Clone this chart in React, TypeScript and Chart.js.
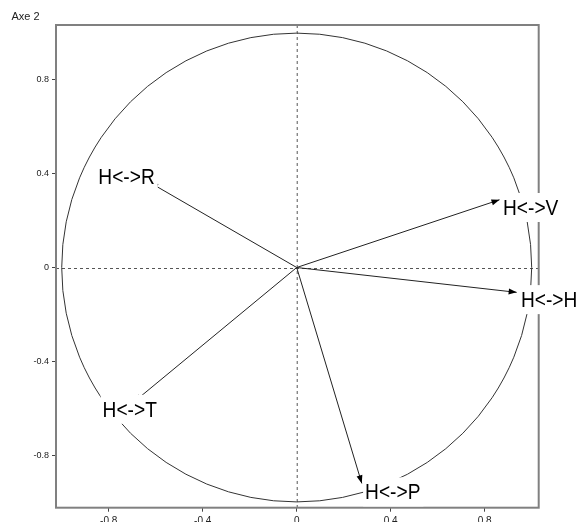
import React, { useEffect, useRef } from "react";
import { Chart, registerables } from "chart.js";

Chart.register(...registerables);

// ---- data ----
const vectorNames = ["H<->V", "H<->H", "H<->P", "H<->R", "H<->T"];
const vectorX = [0.863, 0.936, 0.277, -0.624, -0.692];
const vectorY = [0.289, -0.106, -0.921, 0.362, -0.573];
// label anchors (text left, cap top) in axis units
const labelX = [0.878, 0.954, 0.291, -0.844, -0.826];
const labelY = [0.288, -0.105, -0.925, 0.42, -0.573];

const xTicks = [-0.8, -0.4, 0, 0.4, 0.8];
const yTicks = [-0.8, -0.4, 0, 0.4, 0.8];
const xTickLabels = ["-0.8", "-0.4", "0", "0.4", "0.8"];
const yTickLabels = ["-0.8", "-0.4", "0", "0.4", "0.8"];
const xRange = [-1.0243, 1.0298];
const yRange = [-1.0247, 1.0346];
const yAxisTitle = "Axe 2";
const circleRadius = 1;

const LABEL_FONT = '22px "Liberation Sans", Arial, sans-serif';
const LABEL_SQUEEZE = 0.87;
const TICK_FONT_FAMILY = '"Liberation Sans", Arial, sans-serif';

const overlayPlugin = {
  id: "overlay",
  beforeDatasetsDraw(chart: any) {
    const { ctx, chartArea, scales } = chart;
    const xs = scales.x;
    const ys = scales.y;
    const x0 = xs.getPixelForValue(0);
    const y0 = ys.getPixelForValue(0);
    ctx.save();
    // dashed axes through origin
    ctx.strokeStyle = "#555";
    ctx.lineWidth = 1;
    ctx.setLineDash([3, 3]);
    ctx.beginPath();
    ctx.moveTo(x0 + 0.5, chartArea.top);
    ctx.lineTo(x0 + 0.5, chartArea.bottom);
    ctx.moveTo(chartArea.left, Math.round(y0) + 0.5);
    ctx.lineTo(chartArea.right, Math.round(y0) + 0.5);
    ctx.stroke();
    ctx.setLineDash([]);
    // circle
    const rx = xs.getPixelForValue(circleRadius) - x0;
    const ry = y0 - ys.getPixelForValue(circleRadius);
    ctx.strokeStyle = "#333";
    ctx.lineWidth = 1;
    ctx.beginPath();
    ctx.ellipse(x0, y0, rx, ry, 0, 0, Math.PI * 2);
    ctx.stroke();
    // frame
    ctx.strokeStyle = "#808080";
    ctx.lineWidth = 2;
    ctx.strokeRect(chartArea.left, chartArea.top, chartArea.right - chartArea.left, chartArea.bottom - chartArea.top);
    ctx.restore();
  },
  afterDatasetsDraw(chart: any) {
    const { ctx, scales } = chart;
    const xs = scales.x;
    const ys = scales.y;
    const x0 = xs.getPixelForValue(0);
    const y0 = ys.getPixelForValue(0);
    ctx.save();
    // arrowheads
    ctx.fillStyle = "#000";
    for (let i = 0; i < vectorNames.length; i++) {
      const tx = xs.getPixelForValue(vectorX[i]);
      const ty = ys.getPixelForValue(vectorY[i]);
      const ang = Math.atan2(ty - y0, tx - x0);
      const len = 8;
      const hw = 3;
      const bx = tx - len * Math.cos(ang);
      const by = ty - len * Math.sin(ang);
      ctx.beginPath();
      ctx.moveTo(tx, ty);
      ctx.lineTo(bx + hw * Math.sin(ang), by - hw * Math.cos(ang));
      ctx.lineTo(bx - hw * Math.sin(ang), by + hw * Math.cos(ang));
      ctx.closePath();
      ctx.fill();
    }
    // labels with white boxes
    ctx.font = LABEL_FONT;
    ctx.textAlign = "left";
    ctx.textBaseline = "alphabetic";
    const cap = ctx.measureText("H").actualBoundingBoxAscent;
    for (let i = 0; i < vectorNames.length; i++) {
      const lx = xs.getPixelForValue(labelX[i]);
      const ly = ys.getPixelForValue(labelY[i]);
      const w = ctx.measureText(vectorNames[i]).width * LABEL_SQUEEZE;
      ctx.fillStyle = "#fff";
      ctx.fillRect(lx - 2, ly - 7, w + 5, cap + 14);
      ctx.save();
      ctx.translate(lx, ly + cap);
      ctx.scale(LABEL_SQUEEZE, 1);
      ctx.fillStyle = "#000";
      ctx.fillText(vectorNames[i], 0, 0);
      ctx.restore();
    }
    // y axis title
    ctx.font = `11px ${TICK_FONT_FAMILY}`;
    ctx.fillStyle = "#222";
    ctx.fillText(yAxisTitle, 11.5, 20);
    ctx.restore();
  },
};

export default function App() {
  const ref = useRef<HTMLCanvasElement | null>(null);
  useEffect(() => {
    document.body.style.margin = "0";
    const datasets = vectorNames.map((name, i) => ({
      label: name,
      data: [
        { x: 0, y: 0 },
        { x: vectorX[i], y: vectorY[i] },
      ],
      showLine: true,
      borderColor: "#222",
      borderWidth: 1,
      pointRadius: 0,
      fill: false,
    }));
    const chart = new Chart(ref.current as HTMLCanvasElement, {
      type: "scatter",
      data: { datasets },
      options: {
        animation: false,
        responsive: true,
        maintainAspectRatio: false,
        layout: { padding: { top: 25, right: 39.3, left: 0, bottom: 0 } },
        plugins: { legend: { display: false }, tooltip: { enabled: false } },
        scales: {
          x: {
            type: "linear",
            min: xRange[0],
            max: xRange[1],
            afterBuildTicks: (s: any) => {
              s.ticks = xTicks.map((v) => ({ value: v }));
            },
            afterFit: (s: any) => {
              s.height = 14.3;
            },
            ticks: {
              callback: (_v: any, idx: number) => xTickLabels[idx],
              font: { size: 10, family: TICK_FONT_FAMILY },
              color: "#222",
              padding: 4,
              maxRotation: 0,
              autoSkip: false,
            },
            grid: { display: true, drawOnChartArea: false, drawTicks: true, tickLength: 4, color: "#444" },
            border: { display: false },
          },
          y: {
            type: "linear",
            min: yRange[0],
            max: yRange[1],
            afterBuildTicks: (s: any) => {
              s.ticks = yTicks.map((v) => ({ value: v }));
            },
            afterFit: (s: any) => {
              s.width = 56;
            },
            ticks: {
              callback: (_v: any, idx: number) => yTickLabels[idx],
              font: { size: 9, family: TICK_FONT_FAMILY },
              color: "#222",
              padding: 3,
              autoSkip: false,
            },
            grid: { display: true, drawOnChartArea: false, drawTicks: true, tickLength: 4, color: "#444" },
            border: { display: false },
          },
        },
      },
      plugins: [overlayPlugin],
    } as any);
    return () => chart.destroy();
  }, []);
  return (
    <div style={{ position: "absolute", left: 0, top: 0, width: 578, height: 522, background: "#fff" }}>
      <canvas ref={ref} />
    </div>
  );
}
